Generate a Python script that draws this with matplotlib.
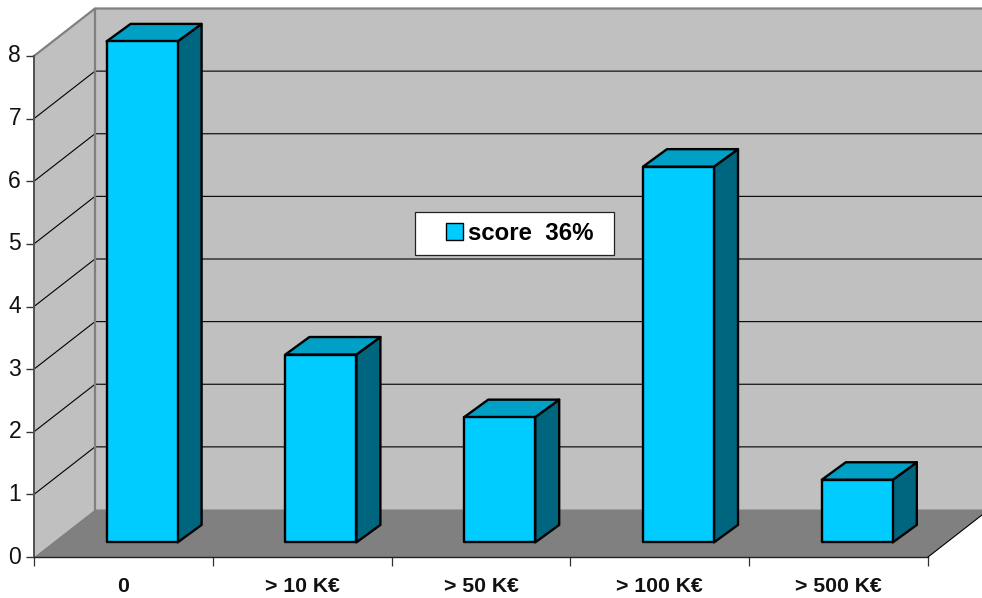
import matplotlib
matplotlib.use("Agg")
import matplotlib.pyplot as plt
from matplotlib.patches import Polygon, Rectangle, Patch
from matplotlib.transforms import ScaledTranslation

categories = ["0", "> 10 K€", "> 50 K€", "> 100 K€", "> 500 K€"]
values = [8, 3, 2, 6, 1]
y_ticks = [0, 1, 2, 3, 4, 5, 6, 7, 8]
legend_label = "score  36%"

plt.rcParams["font.family"] = ["Liberation Sans", "DejaVu Sans"]

W, H = 982, 598
L, R, B, T = 34, 928, 557, 56          # front plane, in pixels
fig = plt.figure(figsize=(W / 100, H / 100), dpi=100, facecolor="white")
ax = fig.add_axes([L / W, 1 - B / H, (R - L) / W, (B - T) / H])
ax.set_xlim(0, len(categories))
ax.set_ylim(0, 8)
ax.patch.set_visible(False)

PX = len(categories) / (R - L)         # data units per pixel
PY = 8 / (B - T)
DX, DY = 61 * PX, 47.5 * PY            # depth of the floor
OX, OY = 18.7 * PX, 14.6 * PY          # bars' front plane offset
BX, BY = 24 * PX, 17.5 * PY            # bar depth
BW = 71 * PX
n = len(categories)

WALL, FLOOR, GRID = "#C0C0C0", "#808080", "#000000"
FRONT, TOP, SIDE = "#00CCFF", "#00A0C6", "#006680"


def poly(pts, **kw):
    ax.add_patch(Polygon(pts, closed=True, clip_on=False, **kw))


# walls and floor
poly([(DX, DY), (n + DX, DY), (n + DX, 8 + DY), (DX, 8 + DY)], fc=WALL, ec="none", zorder=1)
poly([(0, 0), (DX, DY), (DX, 8 + DY), (0, 8)], fc=WALL, ec="none", zorder=1)
poly([(0, 0), (n, 0), (n + DX, DY), (DX, DY)], fc=FLOOR, ec="none", zorder=1.1)

# gridlines on walls
for v in y_ticks[1:-1]:
    ax.plot([0, DX, n + DX], [v, v + DY, v + DY], color=GRID, lw=0.8, clip_on=False, zorder=1.2)
ax.plot([0, DX, n + DX], [8, 8 + DY, 8 + DY], color="#808080", lw=1.6, clip_on=False, zorder=1.3)
ax.plot([DX, DX], [DY, 8 + DY], color="#808080", lw=1.6, clip_on=False, zorder=1.3)
ax.plot([n, n + DX], [0, DY], color="#000000", lw=0.8, clip_on=False, zorder=1.3)

# bars
for i, v in enumerate(values):
    x0 = i + 0.5 + OX - BW / 2
    x1 = x0 + BW
    edge = dict(ec="black", lw=1.7, joinstyle="round", zorder=3)
    poly([(x1, OY), (x1 + BX, OY + BY), (x1 + BX, OY + v + BY), (x1, OY + v)], fc=SIDE, **edge)
    poly([(x0, OY + v), (x1, OY + v), (x1 + BX, OY + v + BY), (x0 + BX, OY + v + BY)], fc=TOP, **edge)
    ax.add_patch(Rectangle((x0, OY), BW, v, fc=FRONT, clip_on=False, **edge))

# axes
for s in ("top", "right"):
    ax.spines[s].set_visible(False)
ax.spines["left"].set_color("#505050")
ax.spines["left"].set_linewidth(1.4)
ax.spines["bottom"].set_color("#222222")
ax.spines["bottom"].set_linewidth(1.0)
ax.set_yticks(y_ticks)
ax.tick_params(axis="y", labelsize=16.5, length=5.8, width=1.0, color="#333333",
               pad=3.5, labelcolor="#111111")
lift = ScaledTranslation(0, 2.5 / 72 * 0.72 * 100 / 100, fig.dpi_scale_trans)
for lab in ax.get_yticklabels():
    lab.set_transform(lab.get_transform() + lift)
ax.set_xticks(range(n + 1))
ax.set_xticklabels([])
ax.tick_params(axis="x", which="major", length=6.5, width=0.9, color="#333333")
ax.set_xticks([i + 0.5 for i in range(n)], minor=True)
ax.set_xticklabels(categories, minor=True, fontsize=15.3, fontweight="bold", color="#111111")
ax.tick_params(axis="x", which="minor", length=0, pad=14.5)

# legend
fig.add_artist(Rectangle((415 / W, 1 - 255 / H), 199 / W, 43 / H, transform=fig.transFigure,
                         fc="white", ec="#222222", lw=0.9, zorder=4))
leg = fig.legend(handles=[Patch(fc=FRONT, ec="black", lw=1.0)], labels=[legend_label],
                 loc="center left", bbox_to_anchor=(446 / W, 1 - 233.5 / H), frameon=False,
                 borderpad=0, borderaxespad=0, handlelength=0.7, handleheight=0.68,
                 handletextpad=0.22, prop={"size": 17.3, "weight": "bold"})
leg.set_zorder(5)

fig.savefig("out.png", dpi=100)
